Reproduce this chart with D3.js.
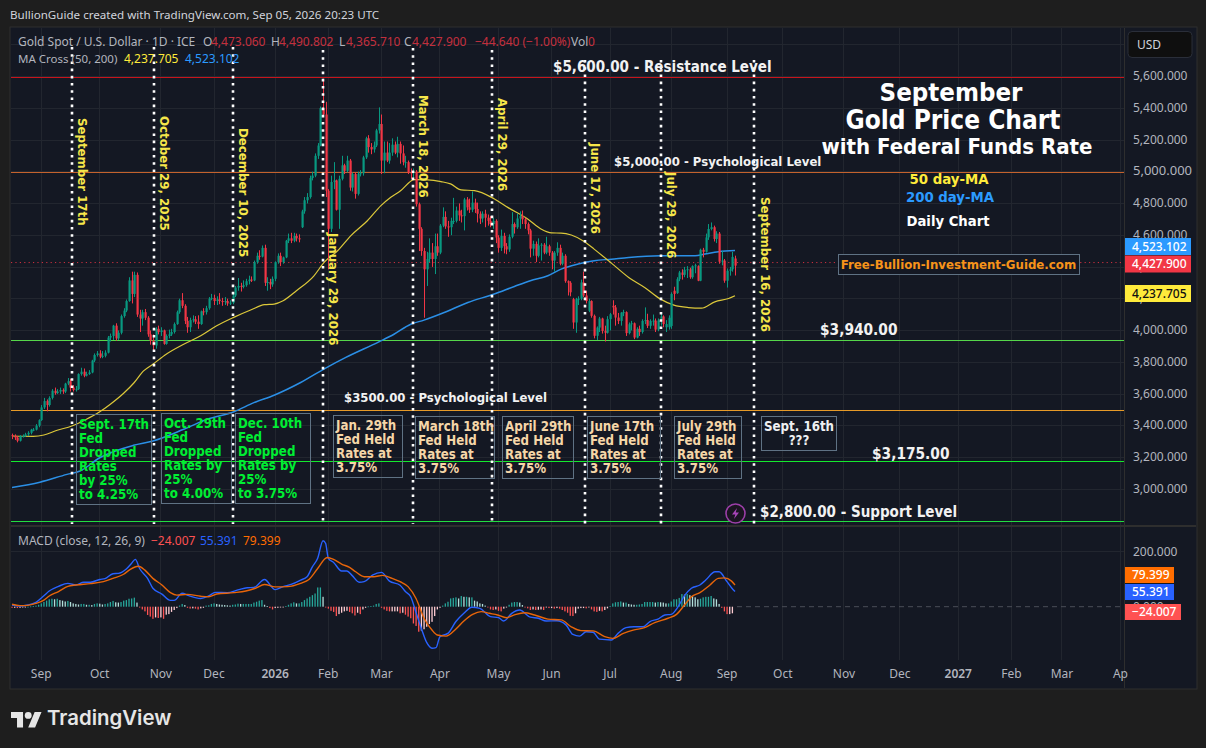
<!DOCTYPE html>
<html><head><meta charset="utf-8">
<script src="https://cdn.jsdelivr.net/npm/d3@7/dist/d3.min.js"></script>
<style>html,body{margin:0;padding:0;background:#1e1e1e;overflow:hidden}svg{display:block}</style>
</head><body><svg id="c" width="1206" height="748"></svg>
<script>
// ---------- values ----------
const opens=[3350,3345,3335,3315,3345,3345,3355,3365,3385,3385,
3410,3445,3525,3565,3540,3585,3630,3615,3625,3635,
3625,3675,3690,3650,3635,3640,3735,3750,3725,3735,
3745,3820,3855,3865,3845,3850,3870,3965,3975,4040,
3960,3995,4100,4135,4195,4325,4240,4360,4110,4085,
4125,4090,3985,3945,3915,4020,4000,4010,3925,3975,
3985,4000,4050,4125,4200,4165,4070,4030,4075,4080,
4065,4050,4130,4125,4150,4210,4215,4195,4205,4195,
4190,4195,4180,4185,4230,4280,4290,4285,4295,4320,
4330,4325,4440,4480,4475,4530,4310,4315,4300,4335,
4440,4480,4440,4470,4575,4590,4575,4605,4590,4660,
4760,4830,4850,4970,4985,5110,5175,5410,5370,4890,
4650,4945,4955,4770,4965,5050,5015,5080,4910,4995,
4870,4995,5000,5100,5220,5165,5150,5175,5270,5310,
5080,5130,5080,5130,5180,5130,5185,5125,5070,5070,
5005,5000,5010,4805,4650,4510,4395,4460,4500,4460,
4540,4500,4670,4725,4665,4660,4700,4700,4765,4735,
4730,4835,4785,4770,4815,4775,4745,4715,4745,4720,
4700,4680,4700,4595,4530,4605,4540,4520,4600,4680,
4660,4715,4730,4710,4680,4640,4525,4555,4480,4545,
4550,4500,4540,4500,4450,4500,4530,4430,4480,4320,
4310,4207,4060,4207,4210,4312,4230,4133,4195,4102,
3976,4028,4085,4007,3995,4081,4165,4155,4091,4070,
4122,4125,3993,4049,4055,3965,4020,4000,4070,4075,
4039,4070,4072,4015,4072,4098,4030,4030,4038,4260,
4245,4333,4375,4360,4392,4395,4345,4415,4415,4323,
4518,4505,4596,4649,4660,4586,4620,4443,4450,4323,4386,4395,4463];
const highs=[3360,3355,3345,3350,3355,3365,3375,3390,3395,3420,
3450,3540,3585,3575,3595,3640,3650,3640,3650,3645,
3680,3710,3705,3665,3660,3740,3775,3770,3750,3760,
3825,3865,3880,3885,3880,3885,3975,3990,4045,4055,
4010,4110,4150,4205,4345,4380,4380,4375,4140,4140,
4145,4100,4010,3985,4030,4040,4030,4015,3985,4015,
4020,4060,4135,4210,4245,4175,4095,4090,4105,4100,
4105,4135,4150,4165,4220,4240,4235,4225,4245,4215,
4220,4210,4200,4240,4290,4340,4310,4325,4335,4355,
4350,4450,4500,4515,4545,4550,4345,4335,4350,4445,
4495,4500,4475,4580,4620,4625,4625,4620,4615,4770,
4850,4875,4985,5010,5125,5190,5420,5595,5450,4900,
4985,5070,4960,4985,5110,5060,5110,5090,5005,5005,
5010,5020,5110,5230,5240,5190,5200,5280,5415,5370,
5200,5200,5190,5220,5200,5230,5200,5175,5110,5080,
5030,5030,5020,4815,4660,4530,4505,4590,4560,4620,
4620,4680,4785,4760,4700,4720,4845,4790,4810,4770,
4845,4850,4840,4885,4840,4815,4760,4760,4770,4740,
4730,4720,4710,4610,4645,4625,4560,4615,4755,4690,
4745,4760,4765,4720,4690,4650,4575,4570,4590,4560,
4560,4600,4550,4510,4510,4565,4550,4500,4490,4325,
4320,4215,4215,4225,4330,4380,4260,4210,4200,4110,
4035,4095,4090,4040,4100,4120,4200,4170,4120,4125,
4140,4130,4060,4070,4060,4030,4040,4080,4155,4115,
4080,4110,4085,4085,4125,4105,4075,4105,4250,4285,
4345,4385,4395,4410,4415,4405,4420,4430,4420,4525,
4530,4620,4680,4690,4670,4635,4630,4510,4460,4400,4410,4505,4481];
const lows=[3325,3320,3305,3310,3335,3340,3345,3355,3375,3380,
3400,3440,3515,3500,3530,3575,3605,3610,3610,3610,
3615,3665,3625,3625,3625,3635,3725,3715,3720,3730,
3740,3810,3845,3835,3835,3840,3865,3940,3950,3945,
3950,3985,4090,4125,4190,4180,4220,4095,4000,4040,
4075,3970,3920,3885,3895,3985,3975,3920,3920,3960,
3975,3990,4045,4115,4150,4050,3995,4000,4060,4050,
4020,4045,4105,4110,4140,4200,4170,4170,4175,4165,
4170,4165,4170,4175,4220,4260,4255,4275,4285,4300,
4315,4320,4430,4455,4470,4290,4260,4270,4285,4320,
4430,4415,4430,4465,4560,4560,4565,4570,4565,4655,
4745,4810,4840,4955,4975,5090,5170,5360,4850,4395,
4630,4900,4765,4650,4955,4995,5005,4890,4885,4840,
4860,4980,4985,5090,5130,5120,5130,5165,5250,4995,
5000,5070,5060,5110,5120,5100,5060,5050,5035,4995,
4965,4960,4790,4510,4480,4090,4290,4440,4410,4365,
4480,4490,4660,4650,4600,4610,4680,4690,4700,4690,
4640,4765,4750,4755,4750,4690,4680,4690,4660,4670,
4660,4650,4560,4500,4510,4495,4490,4505,4590,4620,
4650,4650,4680,4650,4615,4470,4480,4440,4470,4450,
4490,4490,4480,4395,4380,4480,4420,4420,4310,4230,
4225,4020,3995,4170,4200,4220,4180,4125,4090,3960,
3950,4000,3990,3940,3990,4010,4110,4040,4050,4040,
4100,3975,3985,4010,3955,3960,3975,3990,4050,4025,
4020,4040,4000,4005,4040,4030,4000,4015,4020,4200,
4240,4320,4330,4345,4340,4335,4335,4370,4320,4320,
4470,4500,4580,4640,4570,4560,4430,4420,4310,4280,4355,4380,4356];
const closes=[3345,3335,3315,3345,3345,3355,3365,3385,3385,3410,
3445,3525,3565,3540,3585,3630,3615,3625,3635,3625,
3675,3690,3650,3635,3640,3735,3750,3725,3735,3745,
3820,3855,3865,3845,3850,3870,3965,3975,4040,3960,
3995,4100,4135,4195,4325,4240,4360,4110,4085,4125,
4090,3985,3945,3915,4020,4000,4010,3925,3975,3985,
4000,4050,4125,4200,4165,4070,4030,4075,4080,4065,
4050,4130,4125,4150,4210,4215,4195,4205,4195,4190,
4195,4180,4185,4230,4280,4290,4285,4295,4320,4330,
4325,4440,4480,4475,4530,4310,4315,4300,4335,4440,
4480,4440,4470,4575,4590,4575,4605,4590,4585,4760,
4830,4850,4970,4985,5110,5175,5410,5370,4890,4650,
4945,4955,4770,4965,5050,5015,5080,4910,4995,4870,
4995,5000,5100,5220,5165,5150,5175,5270,5310,5080,
5130,5080,5130,5180,5130,5185,5125,5070,5070,5005,
5000,5010,4805,4650,4510,4395,4460,4500,4460,4540,
4500,4670,4725,4665,4660,4700,4700,4765,4735,4730,
4835,4785,4770,4815,4775,4745,4715,4745,4720,4700,
4680,4700,4595,4530,4605,4540,4520,4600,4680,4660,
4715,4730,4710,4680,4640,4525,4555,4480,4545,4550,
4500,4540,4500,4450,4500,4530,4430,4480,4320,4310,
4250,4060,4207,4210,4312,4230,4195,4195,4102,3976,
4028,4085,4007,3995,4081,4112,4155,4091,4070,4122,
4125,3993,4049,4055,3965,4020,4000,4070,4075,4039,
4070,4072,4015,4072,4098,4050,4050,4090,4240,4240,
4333,4375,4360,4392,4395,4345,4415,4420,4323,4518,
4505,4596,4649,4660,4586,4620,4443,4450,4323,4386,4395,4473,4418];

const ma50Bars=[0,8,12,17,22.5,28,33,37,42,46,49.5,53,58,64.6,71,77,83.4,90,95,98.6,102,107,113.6,117.4,122.5,127.5,133.7,138.8,142.5,146.3,149.5,151,156.4,161.4,165,169,174,181.5,186.5,194,199,203,206.6,210.4,215.4,219,225.5,232,238,244,249,254.5,259.4,264.4,269.6,272];
const ma50=[3345,3343,3351,3381,3408,3450,3497,3545,3614,3682,3755,3797,3860,3923,3976,4039,4092,4140,4172,4176,4197,4260,4354,4438,4512,4607,4701,4796,4849,4891,4943,4960,4958,4947,4933,4895,4891,4838,4785,4712,4649,4624,4623,4611,4569,4522,4434,4344,4281,4207,4169,4154,4150,4190,4211,4228];
const ma200Bars=[0,10.5,20.7,25.6,33,45.7,53,64.6,73.4,83.5,91,98.6,108.6,118,125.6,138,143.7,150,155,162.6,171.5,181.4,189,195,201.6,206.6,213,219,225.5,232,244,257,260.7,265.8,272];
const ma200=[3021,3054,3103,3124,3208,3286,3313,3387,3450,3498,3555,3602,3682,3773,3840,3938,3986,4049,4075,4123,4186,4239,4287,4323,4354,4396,4428,4449,4459,4470,4480,4480,4491,4506,4513];

const macdBars=[0,3,6,9,12,14,17.5,21,24,27,29.5,33,35,38,40,43,45,46.4,48,51,53,56.4,59.6,61,64,66.5,71,74,76.5,81,85,88.5,91,95,99,102,105,108.6,111,113,115,117,118,119,121,124,126,128,130.6,132.5,135.6,139,142,146,148,150,152,154,156,158,159.5,161,164,167,170,173,176,180,183,185,188,191,195,198,201,205,208.5,211,213.5,216,218.6,221,225.5,228,231,234,237.4,240,243,245.6,248,250.6,253,255.6,258.8,261,264.5,266,269,270.7,272];
const macdLine=[6,2,6,16,40,57,74,85,79,89,89,99,102,120,121,137,158,172,139,103,67,46,23,23,49,40,30,39,52,51,61,69,70,99,62,73,81,97,109,145,176,240,230,176,161,130,130,113,89,91,115,125,93,78,55,36,-21,-79,-130,-151,-149,-109,-97,-54,-24,-2,-6,-36,-40,-52,-24,-12,-38,-42,-52,-51,-67,-101,-107,-91,-93,-118,-121,-97,-76,-73,-73,-54,-45,-30,-28,0,40,67,79,97,127,127,91,69,55];
const signalBars=[0,3,6,9,12,14,17.5,21,24,29.5,34.4,38,42,44.5,47.6,50,53,56.4,59.6,62,66,71,74,77,83.5,88,91.6,95,99,103.6,108.6,111.7,115,118.6,121,124,127,129.3,132.5,136.2,139.4,143,146,149,152,155,158,160,163.3,167,170,173.3,176.5,179.6,182.7,186,189,192.8,196.6,201.6,206.6,210.4,214,218.6,223,226,230,233.7,238,241.8,246.8,250,253,255.6,258.8,262.6,265.7,268,270.7,272];
const signalLine=[9,4,5,12,24,39,55,74,79,84,91,103,118,136,147,133,103,79,51,42,45,38,36,46,51,57,67,81,72,73,85,99,139,179,172,155,143,127,109,109,114,103,91,73,30,-42,-85,-103,-107,-81,-52,-28,-18,-24,-30,-40,-30,-22,-30,-45,-48,-73,-87,-88,-109,-115,-97,-85,-76,-58,-42,-28,6,36,51,79,103,105,93,79];
const macdHist=[-4,-4,-5,-4,-2,-1,0,1,2,4,7,
12,17,22,27,29,27,29,24,22,19,21,17,12,10,8,10,10,7,7,6,10,12,11,8,10,12,17,21,16,15,17,22,24,29,30,33,15,
-2,-10,-17,-30,-36,-44,-39,-41,-39,-44,-29,-27,-19,-12,-5,
4,10,6,-4,-7,-6,-7,-10,-6,-4,4,5,10,12,10,8,7,6,5,4,7,8,11,10,10,10,10,10,15,18,22,24,7,2,-5,-10,-5,-4,-2,-2,2,7,12,16,12,12,17,24,30,36,42,48,70,70,36,
-2,-7,-15,-19,-34,-27,-22,-17,-15,-19,-24,-32,-22,-27,-10,-4,1,2,4,10,12,-4,-10,-15,-17,-17,-17,-17,
-24,-22,-29,-36,-42,-61,-70,-91,-87,-82,-73,-63,-55,-34,-10,-4,
4,12,18,30,32,34,30,39,36,36,34,34,22,19,12,10,4,
-2,-10,-12,-10,-15,-17,-7,-2,7,15,17,17,15,6,-1,
-6,-12,-10,-12,-11,-10,-12,-2,-5,-5,-7,-5,-7,-12,-17,-22,-33,-34,-24,-7,-5,-5,-6,-2,-10,-17,-19,-15,-17,-12,-6,
2,12,16,17,19,15,15,10,8,7,7,8,10,17,17,17,17,15,17,16,15,12,12,19,27,27,32,46,44,46,42,39,34,27,29,34,36,36,39,30,27,10,
-4,-17,-27,-27,-24];

const monthLabels=["Sep","Oct","Nov","Dec","2026","Feb","Mar","Apr","May","Jun","Jul","Aug","Sep","Oct","Nov","Dec","2027","Feb","Mar","Ap"];
const monthBars=[11,33,56,76,99,119,139,161,183,203,225,248,269,290,313,334,356,376,395,417];
const priceTicks=[5600,5400,5200,5000,4800,4600,4400,4200,4000,3800,3600,3400,3200,3000];
const eventBars=[22.6,53.4,83.1,117,150.9,180.6,215.6,244.2,279.2];
const eventLabels=["September 17th","October 29, 2025","December 10, 2025","January 29, 2026","March 18, 2026","April 29, 2026","June 17, 2026","July 29, 2026","September 16, 2026"];
const levelValues=[5600,5000,3940,3500,3175,2800];

// ---------- frame ----------
const COL={page:"#1e1e1e",pane:"#141823",grid:"#22262f",border:"#2e2e2e",up:"#089981",down:"#f23645",axis:"#b2b5be"};
const F='"Noto Sans",sans-serif', B='"DejaVu Sans Condensed","DejaVu Sans",sans-serif';
const svg=d3.select("#c");
const L=11,R=1124,T=28,PB=526,MB=660,FB=688,FR=1196;
const x=d3.scaleLinear().domain([0,opens.length-1]).range([12,735]);
const y=d3.scaleLinear().domain([5600,3000]).range([76.5,489.25]);
const ym=d3.scaleLinear().domain([200,0]).range([551.7,606.7]);

svg.append("rect").attr("width",1206).attr("height",748).attr("fill",COL.page);
svg.append("rect").attr("x",L-1).attr("y",T-1).attr("width",FR-L+2).attr("height",FB-T+2).attr("fill",COL.pane).attr("stroke",COL.border);
svg.append("rect").attr("x",L).attr("y",MB+0).attr("width",R-L).attr("height",FB-MB).attr("fill",COL.pane);

const txt=(g,s,px,py,o={})=>g.append("text").attr("x",px).attr("y",py).text(s)
  .attr("font-family",o.f||F).attr("font-size",o.s||12).attr("font-weight",o.w||400).attr("fill",o.c||COL.axis)
  .attr("text-anchor",o.a||"start");

// grid
const grid=svg.append("g").attr("stroke",COL.grid).attr("shape-rendering","crispEdges");
monthBars.forEach(b=>{grid.append("line").attr("x1",x(b)).attr("x2",x(b)).attr("y1",T).attr("y2",MB);});
[5800,...priceTicks,2800].forEach(p=>{grid.append("line").attr("x1",L).attr("x2",R).attr("y1",y(p)).attr("y2",y(p));});
grid.append("line").attr("x1",L).attr("x2",R).attr("y1",ym(200)).attr("y2",ym(200));
// pane and axis separators
const sep=svg.append("g").attr("stroke",COL.border).attr("shape-rendering","crispEdges");
sep.append("line").attr("x1",L).attr("x2",FR).attr("y1",PB).attr("y2",PB).attr("stroke-width",2);
sep.append("line").attr("x1",R).attr("x2",R).attr("y1",T).attr("y2",FB);

// horizontal level lines
const levelColors=["#c8141c","#c4622d","#55d64a","#e69a28","#14e82e","#22dd40"];
levelValues.forEach((v,i)=>{const ly=Math.floor(y(v)+.5)+.5;
  svg.append("line").attr("x1",L).attr("x2",R).attr("y1",ly).attr("y2",ly)
  .attr("stroke",levelColors[i]).attr("stroke-width",1);});

// last price line
svg.append("line").attr("x1",L).attr("x2",R).attr("y1",y(4427.9)).attr("y2",y(4427.9))
  .attr("stroke",COL.down).attr("stroke-dasharray","1.2 3.2").attr("opacity",.85);

// candles + moving averages
const marks=svg.append("g").attr("transform","translate(0,1.5)");
const line=(xs,ys,sx,sy)=>d3.line().x((d,i)=>sx(xs[i])).y((d,i)=>sy(ys[i])).curve(d3.curveMonotoneX)(ys);
marks.append("path").attr("d",line(ma200Bars,ma200,x,y)).attr("fill","none").attr("stroke","#2b8fe6").attr("stroke-width",1.5);
marks.append("path").attr("d",line(ma50Bars,ma50,x,y)).attr("fill","none").attr("stroke","#dcc83a").attr("stroke-width",1.2);
opens.forEach((o,i)=>{
  const c=closes[i],col=c>=o?COL.up:COL.down,xc=Math.round(x(i));
  marks.append("line").attr("x1",xc+.5).attr("x2",xc+.5).attr("y1",y(highs[i])).attr("y2",y(lows[i])).attr("stroke",col);
  marks.append("rect").attr("x",xc-.5).attr("width",2.2).attr("y",y(Math.max(o,c))).attr("height",Math.max(1,Math.abs(y(o)-y(c)))).attr("fill",col);
});

// event lines and rotated labels
const eventTop=[47,47,47,50,48,50,60,60,60];
const labelY=[118,116,128,233,95,98,143,172,197];
const labelX=[6,6,6,6,6,6,6,6,7];
const ev=svg.append("g");
eventBars.forEach((b,i)=>{
  ev.append("line").attr("x1",Math.round(x(b))).attr("x2",Math.round(x(b))).attr("y1",eventTop[i]).attr("y2",524)
    .attr("stroke","#fff").attr("stroke-width",2.6).attr("stroke-dasharray","2.6 4.6");
  const px=x(b)+labelX[i];
  ev.append("text").attr("transform",`translate(${px},${labelY[i]}) rotate(90)`).text(eventLabels[i])
    .attr("font-family",B).attr("font-size",13.1).attr("font-weight",700).attr("fill","#f6e64a");
});

// box notes
const green="#00ee33",tan="#f5d6a8";
const notes=[
 {b:[76.5,414.5,75,90],c:green,lines:["Sept. 17th","Fed","Dropped","Rates","by 25%","to 4.25%"]},
 {b:[161.5,413.5,70,90],c:green,lines:["Oct. 29th","Fed","Dropped","Rates by","25%","to 4.00%"]},
 {b:[235.5,413.5,75,90],c:green,lines:["Dec. 10th","Fed","Dropped","Rates by","25%","to 3.75%"]},
 {b:[333.5,415.5,69,62],c:tan,lines:["Jan. 29th","Fed Held","Rates at","3.75%"]},
 {b:[415.5,416.5,79,62],c:tan,lines:["March 18th","Fed Held","Rates at","3.75%"]},
 {b:[502.5,416.5,71,62],c:tan,lines:["April 29th","Fed Held","Rates at","3.75%"]},
 {b:[587.5,416.5,73,62],c:tan,lines:["June 17th","Fed Held","Rates at","3.75%"]},
 {b:[674.5,416.5,67,62],c:tan,lines:["July 29th","Fed Held","Rates at","3.75%"]}
];
notes.forEach(n=>{
  svg.append("rect").attr("x",n.b[0]).attr("y",n.b[1]).attr("width",n.b[2]).attr("height",n.b[3]).attr("fill","none").attr("stroke","#5f7284");
  n.lines.forEach((l,i)=>txt(svg,l,n.b[0]+2.5,n.b[1]+14.5+i*14,{f:B,s:13.2,w:700,c:n.c}));
});
svg.append("rect").attr("x",761.5).attr("y",416.5).attr("width",75).attr("height",34).attr("fill","none").attr("stroke","#5f7284");
txt(svg,"Sept. 16th",799,431,{f:B,s:13.2,w:700,c:"#eef0f2",a:"middle"});
txt(svg,"???",799,444.5,{f:B,s:13.2,w:700,c:"#eef0f2",a:"middle"});

// level captions
[["$5,600.00 - Resistance Level",553,72,15],["$5,000.00 - Psychological Level",614,166,13],["$3,940.00",820,335,15.3],
 ["$3500.00 - Psychological Level",344,402,13],["$3,175.00",872,459,15.3],["$2,800.00 - Support Level",760,517,15]]
 .forEach(t=>txt(svg,t[0],t[1],t[2],{f:B,s:t[3],w:700,c:"#f2f2f2"}));

// title block
[["September",951,101,25.6,"#fff"],["Gold Price Chart",953,129,26,"#fff"],["with Federal Funds Rate",957,154,22,"#fff"],
 ["50 day-MA",949,184,14.8,"#ffeb3b"],["200 day-MA",950,202,14.8,"#2b9aff"],["Daily Chart",948,226,14.7,"#fff"]]
 .forEach(t=>txt(svg,t[0],t[1],t[2],{f:B,s:t[3],w:700,c:t[4],a:"middle"}));
svg.append("rect").attr("x",838.5).attr("y",254.5).attr("width",241).attr("height",20).attr("fill",COL.pane).attr("stroke","#5f7284");
txt(svg,"Free-Bullion-Investment-Guide.com",958.5,269,{f:B,s:13.1,w:700,c:"#f7931a",a:"middle"});

// lightning badge
svg.append("circle").attr("cx",735.5).attr("cy",513.5).attr("r",9.5).attr("fill","#1a1520").attr("stroke","#9c3fa8").attr("stroke-width",1.6);
svg.append("path").attr("d","M737 508 L732 514.5 L735.3 514.5 L734 519 L739 512.5 L735.7 512.5 Z").attr("fill","#a845b8");

// MACD pane
const mg=svg.append("g");
const histCol=(v,i)=>{const p=i?macdHist[i-1]:0; return v>=0?(v>=p?"#26a69a":"#b2dfdb"):(v<p?"#ff5252":"#ffcdd2");};
macdHist.forEach((v,i)=>mg.append("rect").attr("x",x(i)-.6).attr("width",1.3)
  .attr("y",Math.min(ym(v),ym(0))).attr("height",Math.max(.8,Math.abs(ym(v)-ym(0)))).attr("fill",histCol(v,i)));
mg.append("line").attr("x1",x(opens.length-1)+2).attr("x2",R).attr("y1",ym(0)).attr("y2",ym(0)).attr("stroke","#4a4e58").attr("stroke-dasharray","5 4");
mg.append("path").attr("d",line(macdBars,macdLine,x,ym)).attr("fill","none").attr("stroke","#2962ff").attr("stroke-width",1.4);
mg.append("path").attr("d",line(signalBars,signalLine,x,ym)).attr("fill","none").attr("stroke","#e8650a").attr("stroke-width",1.4);

// price axis
priceTicks.forEach(p=>txt(svg,d3.format(",.3f")(p),1133,y(p)+3.5,{s:p==5000?13:12}));
txt(svg,"200.000",1133,ym(200)+4,{});
txt(svg,"0.000",1133,ym(0)+4,{});
const tag=(s,yy,w,h,bg,fg)=>{svg.append("rect").attr("x",1125).attr("y",yy).attr("width",w).attr("height",h).attr("fill",bg);
  txt(svg,s,1132,yy+h/2+4.3,{c:fg,w:500});};
tag("4,523.102",238,66,17,"#2b9aff","#fff");
tag("4,427.900",255.5,66,17,"#f23645","#fff");
tag("4,237.705",285,66,17,"#ffeb3b","#111");
tag("79.399",567,49,16,"#ff6d00","#fff");
tag("55.391",584,49,16,"#2962ff","#fff");
tag("\u221224.007",604,56,16,"#ff5252","#fff");
svg.append("rect").attr("x",1128).attr("y",31.5).attr("width",64).attr("height",26).attr("rx",4).attr("fill","#0f0f0f").attr("stroke","#2a2e39");
txt(svg,"USD",1137,49,{c:"#d1d4dc"});

// time axis
monthLabels.forEach((m,i)=>txt(svg,m,x(monthBars[i]),678,{a:"middle",w:/^20/.test(m)?600:400}));

// legends
txt(svg,"BullionGuide created with TradingView.com, Sep 05, 2026 20:23 UTC",10,19,{c:"#d1d4dc",s:11.6});
const dim="#f23645cc";
[["Gold Spot / U.S. Dollar \u00b7 1D \u00b7 ICE",18,COL.axis],["O",203,COL.axis],["4,473.060",211,dim],["H",271,COL.axis],["4,490.802",279,dim],["L",339,COL.axis],["4,365.710",346,dim],["C",404,COL.axis],["4,427.900",412,dim],["\u221244.640 (\u22121.00%)",475,dim],["Vol",571,COL.axis],["0",588,dim]]
 .forEach(t=>txt(svg,t[0],t[1],46,{c:t[2]}));
txt(svg,"MA Cross (50, 200)",18,63,{s:11.5});
txt(svg,"4,237.705",124,63,{c:"#ffeb3b"});
txt(svg,"4,523.102",185,63,{c:"#2b9aff"});
txt(svg,"MACD (close, 12, 26, 9)",18,545,{});
txt(svg,"\u221224.007",151,545,{c:"#ff5252"});
txt(svg,"55.391",200,545,{c:"#2962ff"});
txt(svg,"79.399",243,545,{c:"#ff6d00"});

// brand
const logo=svg.append("g").attr("transform","translate(11,708.5) scale(.86)").attr("fill","#e6e6e6");
logo.append("path").attr("d","M14 22H7V11H0V4h14v18zM28 22h-8l7.5-18h8L28 22z");
logo.append("circle").attr("cx",20).attr("cy",8).attr("r",4);
txt(svg,"TradingView",47,725,{f:'Inter,sans-serif',s:20.4,w:600,c:"#e6e6e6"});
</script></body></html>
